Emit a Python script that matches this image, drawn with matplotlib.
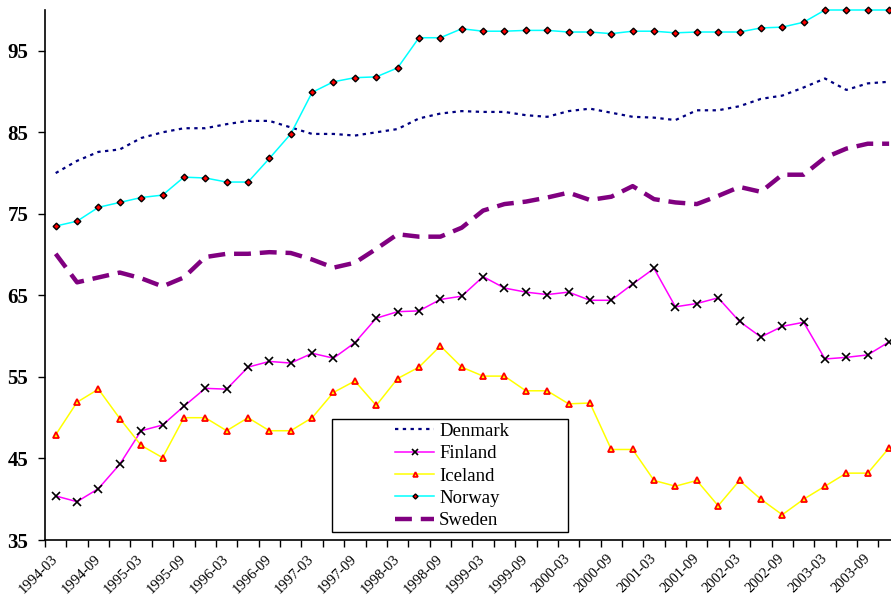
import matplotlib
matplotlib.use("Agg")
import matplotlib.pyplot as plt
from matplotlib.patches import Rectangle

years = list(range(1994, 2004))
months = ["03", "06", "09", "12"]
quarters = [f"{y}-{m}" for y in years for m in months]

denmark = [80.0, 81.5, 82.6, 82.9, 84.3, 85.0, 85.5, 85.5, 86.0, 86.4,
           86.4, 85.6, 84.8, 84.8, 84.6, 85.0, 85.4, 86.7, 87.3, 87.6,
           87.5, 87.5, 87.1, 86.9, 87.6, 87.9, 87.4, 86.9, 86.8, 86.5,
           87.7, 87.7, 88.2, 89.1, 89.5, 90.5, 91.6, 90.2, 91.0, 91.2]
finland = [40.4, 39.7, 41.3, 44.3, 48.4, 49.1, 51.4, 53.6, 53.5, 56.2,
           56.9, 56.7, 57.9, 57.3, 59.2, 62.2, 63.0, 63.1, 64.5, 64.9,
           67.3, 65.9, 65.4, 65.1, 65.4, 64.4, 64.4, 66.4, 68.3, 63.6,
           64.0, 64.7, 61.8, 59.9, 61.2, 61.7, 57.2, 57.4, 57.7, 59.3]
iceland = [47.9, 51.9, 53.5, 49.9, 46.6, 45.1, 50.0, 50.0, 48.4, 50.0,
           48.4, 48.4, 50.0, 53.1, 54.5, 51.5, 54.8, 56.2, 58.8, 56.2,
           55.1, 55.1, 53.3, 53.3, 51.7, 51.8, 46.1, 46.1, 42.3, 41.6,
           42.3, 39.2, 42.3, 40.0, 38.1, 40.0, 41.6, 43.2, 43.2, 46.3]
norway = [73.5, 74.1, 75.8, 76.4, 77.0, 77.3, 79.5, 79.4, 78.9, 78.9,
          81.8, 84.8, 89.9, 91.2, 91.7, 91.8, 92.9, 96.6, 96.6, 97.7,
          97.4, 97.4, 97.5, 97.5, 97.3, 97.3, 97.1, 97.4, 97.4, 97.2,
          97.3, 97.3, 97.3, 97.8, 97.9, 98.5, 100.0, 100.0, 100.0, 100.0]
sweden = [70.1, 66.6, 67.2, 67.8, 67.1, 66.1, 67.2, 69.7, 70.1, 70.1,
          70.3, 70.2, 69.4, 68.4, 69.0, 70.7, 72.5, 72.2, 72.2, 73.3,
          75.4, 76.2, 76.5, 77.0, 77.6, 76.7, 77.1, 78.4, 76.8, 76.4,
          76.2, 77.2, 78.3, 77.7, 79.8, 79.8, 81.9, 83.0, 83.6, 83.6]
yticks = [35, 45, 55, 65, 75, 85, 95]

serif = ["Liberation Serif", "DejaVu Serif"]
plt.rcParams["font.family"] = serif

W, H = 891, 599
fig = plt.figure(figsize=(W / 100, H / 100), dpi=100)
left, right, top, bottom = 45, 899.8, 10, 540
ax = fig.add_axes([left / W, 1 - bottom / H, (right - left) / W, (bottom - top) / H])

x = list(range(len(quarters)))
l1, = ax.plot(x, denmark, color="#000080", lw=1.6, linestyle=(0, (1.5, 2.0)), label="Denmark")
l2, = ax.plot(x, finland, color="#FF00FF", lw=1.1, marker="x", ms=5.5, mec="black", mew=1.2,
              label="Finland", clip_on=False)
l3, = ax.plot(x, iceland, color="#FFFF00", lw=1.1, marker="^", ms=4.5, mfc="#FFFF00", mec="#FF0000",
              mew=1.3, label="Iceland", clip_on=False)
l4, = ax.plot(x, norway, color="#00FFFF", lw=1.1, marker="D", ms=3.4, mfc="#FF0000", mec="black",
              mew=1.0, label="Norway", clip_on=False)
l5, = ax.plot(x, sweden, color="#800080", lw=3.2, linestyle=(0, (3.8, 2.0)), label="Sweden")

ax.set_xlim(-0.5, len(quarters) - 0.5)
ax.set_ylim(35, 100)
ax.set_yticks(yticks)
ax.set_yticklabels([str(v) for v in yticks], fontweight="bold", fontsize=15)
ax.tick_params(axis="y", direction="out", length=5, width=1, pad=7)

ax.set_xticks([i - 0.5 for i in range(len(quarters) + 1)])
ax.set_xticklabels([])
ax.tick_params(axis="x", which="major", direction="out", length=5, width=1)
ax.set_xticks(x[::2], minor=True)
ax.set_xticklabels(quarters[::2], minor=True, rotation=45, ha="right", va="center",
                   rotation_mode="anchor", fontsize=10.5)
ax.tick_params(axis="x", which="minor", length=0, pad=12)

for s in ["top", "right"]:
    ax.spines[s].set_visible(False)
for s in ["left", "bottom"]:
    ax.spines[s].set_linewidth(1.2)

# legend
bx0, bx1, by0, by1 = 332, 568, 419, 532
ax.add_patch(Rectangle(((bx0 - left) / (right - left), (bottom - by1) / (bottom - top)),
                       (bx1 - bx0) / (right - left), (by1 - by0) / (bottom - top),
                       transform=ax.transAxes, facecolor="white", edgecolor="black", lw=1.0,
                       zorder=5))
leg = ax.legend(handles=[l1, l2, l3, l4, l5], loc="center",
                bbox_to_anchor=((452 - left) / (right - left), (bottom - 476) / (bottom - top)),
                frameon=False, fontsize=13.5, handlelength=2.1, handletextpad=0.25,
                labelspacing=0.28, borderpad=0.2, markerscale=0.75)
leg.set_zorder(6)

fig.savefig("out.png", dpi=100)
